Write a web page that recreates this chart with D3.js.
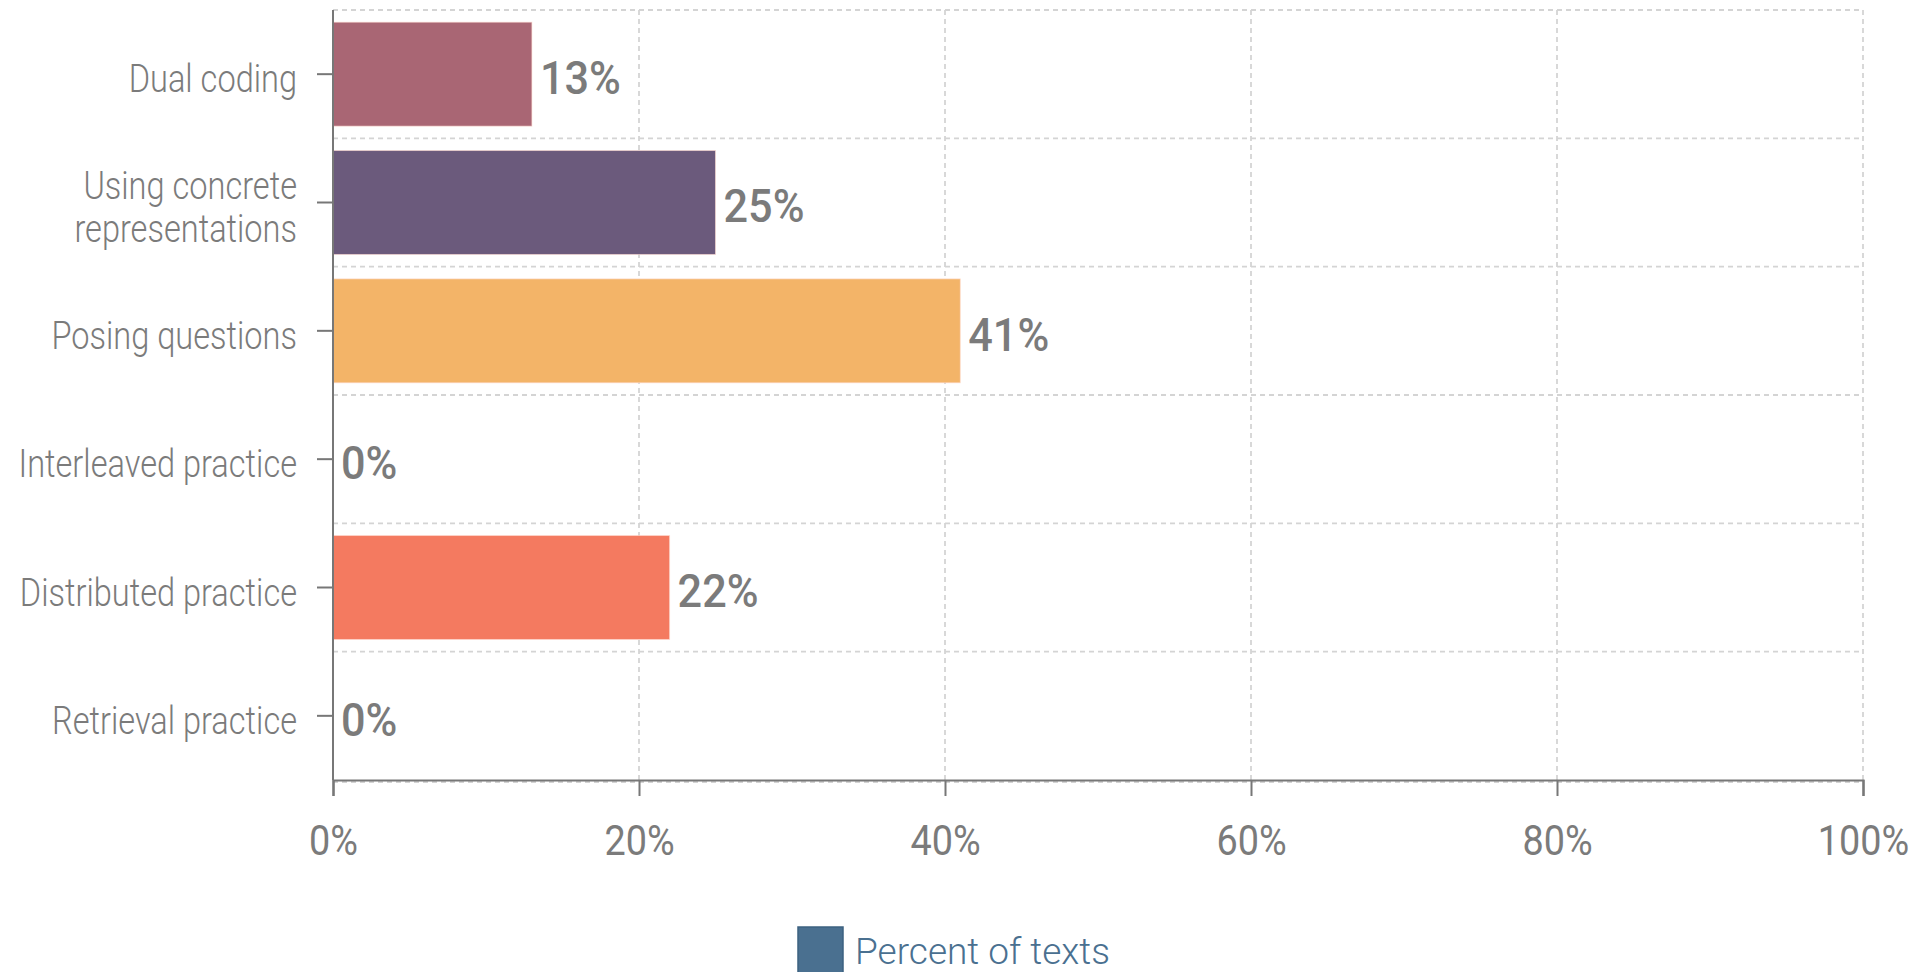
<!DOCTYPE html>
<html>
<head>
<meta charset="utf-8">
<script src="https://cdn.jsdelivr.net/npm/d3@7"></script>
<style>
  html, body { margin: 0; padding: 0; background: #ffffff; }
  svg { display: block; }
</style>
</head>
<body>
<svg id="chart" width="1920" height="972"></svg>
<script>
// Share of texts using each learning strategy
const categories = [
  "Dual coding",
  "Using concrete representations",
  "Posing questions",
  "Interleaved practice",
  "Distributed practice",
  "Retrieval practice"
];
const labelLines = [
  ["Dual coding"],
  ["Using concrete", "representations"],
  ["Posing questions"],
  ["Interleaved practice"],
  ["Distributed practice"],
  ["Retrieval practice"]
];
const values = [13, 25, 41, 0, 22, 0];
const barColors = ["#a96674", "#6b5a7c", "#f3b468", "#f4a460", "#f47a60", "#e06c75"];
const xTicks = [0, 20, 40, 60, 80, 100];
const seriesName = "Percent of texts";
const seriesColor = "#4a7090";

const FONT = "Roboto, 'DejaVu Sans', sans-serif";
// horizontal squeeze for the condensed look
const NARROW_CAT = 0.835;
const NARROW_VAL = 0.92;
const NARROW_TICK = 0.9;
const TEXT_GREY = "#7b7b7b";

const margin = { top: 10, left: 333, right: 57, bottom: 192 };
const W = 1920, H = 972;
const innerW = W - margin.left - margin.right;
const innerH = H - margin.top - margin.bottom;

const svg = d3.select("#chart");
const g = svg.append("g").attr("transform", `translate(${margin.left},${margin.top})`);

const x = d3.scaleLinear().domain([0, 100]).range([0, innerW]);
const y = d3.scaleBand().domain(categories).range([0, innerH]).paddingInner(0.19).paddingOuter(0.095);
const step = y.step();

// dashed grid: verticals at x ticks, horizontals at band boundaries
const grid = g.append("g").attr("stroke", "#d4d4d4").attr("stroke-width", 1.8)
  .attr("stroke-dasharray", "5,4").attr("fill", "none");
grid.selectAll("line.v").data(xTicks.filter(t => t > 0)).join("line")
  .attr("x1", d => x(d)).attr("x2", d => x(d))
  .attr("y1", 0).attr("y2", innerH);
grid.selectAll("line.h").data(d3.range(categories.length + 1)).join("line")
  .attr("x1", 0).attr("x2", innerW)
  .attr("y1", i => i * step + (i === categories.length ? 2 : 0))
  .attr("y2", i => i * step + (i === categories.length ? 2 : 0));

// bars
const colorOf = d3.scaleOrdinal().domain(categories).range(barColors);
g.selectAll("rect.bar").data(categories).join("rect")
  .attr("class", "bar")
  .attr("x", 0)
  .attr("y", d => y(d))
  .attr("width", (d, i) => x(values[i]) - x(0))
  .attr("height", y.bandwidth())
  .attr("fill", d => colorOf(d))
  .attr("stroke", "rgba(255,220,210,0.6)")
  .attr("stroke-width", 1);

// value labels
g.selectAll("g.val").data(categories).join("g")
  .attr("class", "val")
  .attr("transform", (d, i) => `translate(${x(values[i]) + 8},${y(d) + y.bandwidth() / 2 + 3}) scale(${NARROW_VAL},1)`)
  .append("text")
  .attr("dy", "0.36em")
  .attr("font-family", FONT)
  .attr("font-size", 47)
  .attr("font-weight", 500)
  .attr("fill", TEXT_GREY)
  .text((d, i) => values[i] + "%");

// y axis
const yAxisG = g.append("g");
yAxisG.append("line").attr("x1", 0).attr("x2", 0).attr("y1", 0).attr("y2", innerH)
  .attr("stroke", "#777").attr("stroke-width", 2);
yAxisG.selectAll("line.tick").data(categories).join("line")
  .attr("x1", -16).attr("x2", 0)
  .attr("y1", d => y(d) + y.bandwidth() / 2).attr("y2", d => y(d) + y.bandwidth() / 2)
  .attr("stroke", "#777").attr("stroke-width", 2);
const lineH = 43;
yAxisG.selectAll("g.cat").data(categories).join("g")
  .attr("class", "cat")
  .attr("transform", d => `translate(-36,${y(d) + y.bandwidth() / 2 + 4}) scale(${NARROW_CAT},1)`)
  .append("text")
  .attr("text-anchor", "end")
  .attr("font-family", FONT)
  .attr("font-size", 39)
  .attr("font-weight", 300)
  .attr("fill", TEXT_GREY)
  .each(function (d, i) {
    const lines = labelLines[i];
    const t = d3.select(this);
    lines.forEach((ln, k) => {
      t.append("tspan")
        .attr("x", 0)
        .attr("y", (k - (lines.length - 1) / 2) * lineH)
        .attr("dy", "0.36em")
        .text(ln);
    });
  });

// x axis
const xAxis = d3.axisBottom(x).tickValues(xTicks).tickFormat(d => d + "%").tickSize(16).tickPadding(29);
const xAxisG = g.append("g").attr("transform", `translate(0,${innerH})`).call(xAxis);
xAxisG.select(".domain").attr("stroke", "#777").attr("stroke-width", 2.2);
xAxisG.selectAll(".tick line").attr("stroke", "#777").attr("stroke-width", 2);
xAxisG.selectAll(".tick text")
  .attr("font-family", FONT)
  .attr("font-size", 42)
  .attr("font-weight", 400)
  .attr("fill", TEXT_GREY)
  .attr("transform", `scale(${NARROW_TICK},1)`);

// legend
const legend = svg.append("g").attr("transform", "translate(798,927)");
legend.append("rect").attr("x", 0).attr("y", 0).attr("width", 45).attr("height", 50)
  .attr("fill", seriesColor).attr("stroke", "#3d6180").attr("stroke-width", 1.5);
legend.append("text").attr("x", 57).attr("y", 37)
  .attr("font-family", FONT)
  .attr("font-size", 37)
  .attr("font-weight", 300)
  .attr("fill", seriesColor)
  .text(seriesName);
</script>
</body>
</html>
